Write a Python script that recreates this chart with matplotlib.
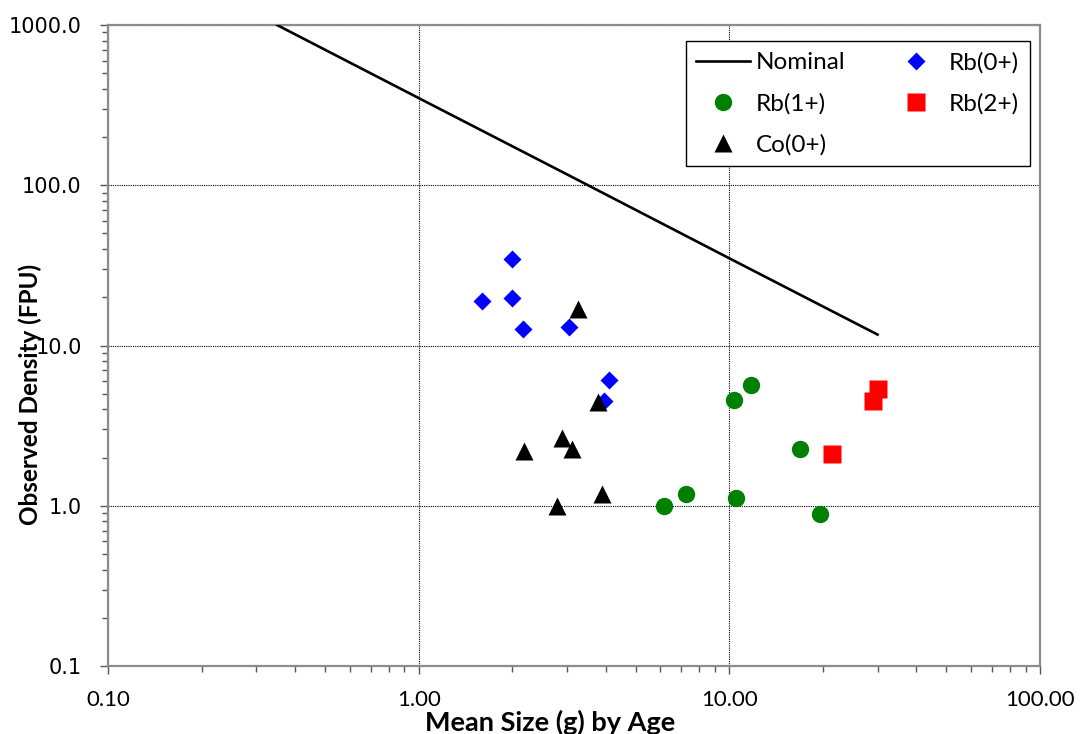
import numpy as np
import matplotlib
matplotlib.use('Agg')
import matplotlib.pyplot as plt
from matplotlib.ticker import LogLocator, FormatStrFormatter, NullFormatter


#nominal density curve
nom_size = [0.35, 1.0, 3.0, 10.0, 30.0]
nom_dens = [1000.0, 350.0, 117.0, 35.0, 11.7]

#Rb(0+)
rb0_size = [2.0, 1.6, 2.0, 2.17, 3.05, 4.1, 3.95]
rb0_dens = [34.7, 19.0, 19.8, 12.7, 13.0, 6.1, 4.5]

#Rb(1+)
rb1_size = [11.7, 10.35, 16.9, 7.24, 6.17, 10.5, 19.6]
rb1_dens = [5.7, 4.55, 2.25, 1.18, 1.0, 1.11, 0.885]

#Rb(2+)
rb2_size = [30.0, 29.0, 21.4]
rb2_dens = [5.35, 4.5, 2.1]

#Co(0+)
co0_size = [3.25, 3.77, 2.9, 3.12, 2.18, 3.88, 2.78]
co0_dens = [16.9, 4.46, 2.65, 2.27, 2.2, 1.18, 0.99]

xticks = [0.1, 1.0, 10.0, 100.0]
yticks = [0.1, 1.0, 10.0, 100.0, 1000.0]


fig = plt.figure(figsize=(10.81, 7.34), dpi=100)
ax = fig.add_axes([108/1081, 1 - 666/734, 932/1081, 641/734])

nomLine, = ax.plot(nom_size, nom_dens, color='black', lw=1.9, label='Nominal', zorder=3)
rb0, = ax.plot(rb0_size, rb0_dens, ls='none', marker='D', ms=9.2, color='#0000ff',
               mec='none', label='Rb(0+)', zorder=4)
rb1, = ax.plot(rb1_size, rb1_dens, ls='none', marker='o', ms=12.5, color='#008000',
               mec='none', label='Rb(1+)', zorder=4)
rb2, = ax.plot(rb2_size, rb2_dens, ls='none', marker='s', ms=12.5, color='#ff0000',
               mec='none', label='Rb(2+)', zorder=4)
co0, = ax.plot(co0_size, co0_dens, ls='none', marker='^', ms=12.5, color='black',
               mec='none', label='Co(0+)', zorder=5)

ax.set_xscale('log')
ax.set_yscale('log')
ax.set_xlim(0.1, 100)
ax.set_ylim(0.1, 1000)

ax.xaxis.set_minor_locator(LogLocator(base=10, subs=np.arange(2, 10), numticks=20))
ax.yaxis.set_minor_locator(LogLocator(base=10, subs=np.arange(2, 10), numticks=20))
ax.set_xticks(xticks)
ax.set_yticks(yticks)
ax.xaxis.set_major_formatter(FormatStrFormatter('%.2f'))
ax.yaxis.set_major_formatter(FormatStrFormatter('%.1f'))
ax.xaxis.set_minor_formatter(NullFormatter())
ax.yaxis.set_minor_formatter(NullFormatter())

ax.grid(True, which='major', color='black', ls=(0, (1, 1)), lw=0.8, zorder=1)
ax.set_axisbelow(True)

for s in ax.spines.values():
    s.set_color('#8c8c8c')
    s.set_linewidth(1.6)

ax.tick_params(which='major', direction='out', length=6, width=1, color='#555555')
ax.tick_params(which='minor', direction='out', length=4, width=1, color='#555555')
ax.tick_params(axis='x', which='major', pad=11, labelsize=16)
ax.tick_params(axis='y', which='major', pad=13, labelsize=15)
for lab in ax.get_xticklabels():
    lab.set_family(['Lato', 'DejaVu Sans'])
for lab in ax.get_yticklabels():
    lab.set_family('DejaVu Sans')

ax.set_xlabel('Mean Size (g) by Age', fontsize=19.5, fontweight='bold', family=['Lato', 'DejaVu Sans'])
ax.xaxis.set_label_coords(0.474, -0.088)
ax.xaxis.label.set_va('center')
ax.set_ylabel('Observed Density (FPU)', fontsize=17.5, fontweight='bold', family=['Lato', 'DejaVu Sans'])
ax.yaxis.set_label_coords(-0.084, 0.423)
ax.yaxis.label.set_va('center')

#column-major fill so the rows read Nominal/Rb(0+), Rb(1+)/Rb(2+), Co(0+)
leg = ax.legend(handles=[nomLine, rb1, co0, rb0, rb2], ncol=2,
                loc='upper right', bbox_to_anchor=(0.9893, 0.975), borderaxespad=0,
                prop={'family': ['Lato', 'DejaVu Sans'], 'size': 17.5},
                fancybox=False, edgecolor='black', framealpha=1,
                handlelength=2.2, handletextpad=0.25, columnspacing=1.8,
                labelspacing=0.8, borderpad=0.45)
leg.get_frame().set_linewidth(1.0)

fig.savefig('out.png', dpi=100)
